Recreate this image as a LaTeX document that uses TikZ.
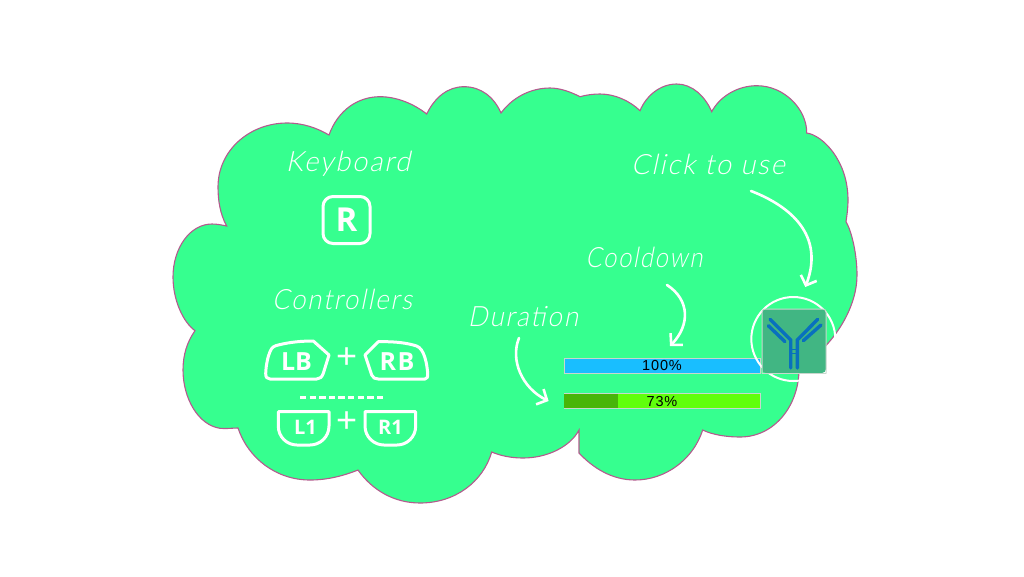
\documentclass[tikz,border=0pt]{standalone}
\usepackage{fontspec}
\setmainfont{Liberation Sans}
\newfontfamily\handfont[FakeSlant=0.22,LetterSpace=7]{Lato Light}
\newfontfamily\keyfont{Open Sans Bold}
\newfontfamily\barfont[LetterSpace=6]{Liberation Sans}
\usepackage{tikz}
\usetikzlibrary{arrows.meta}
\definecolor{cloudgreen}{RGB}{54,255,143}
\definecolor{cloudedge}{RGB}{180,90,142}
\definecolor{barblue}{RGB}{25,190,255}
\definecolor{barlime}{RGB}{96,255,12}
\definecolor{bardark}{RGB}{72,181,8}
\definecolor{icongreen}{RGB}{65,182,131}
\definecolor{iconblue}{RGB}{8,112,190}
\definecolor{barframe}{RGB}{200,215,205}

\begin{document}
\begin{tikzpicture}[x=1pt, y=-1pt]
		\tikzstyle{hand} = [font=\handfont\fontsize{28}{28}\selectfont, text=white, inner sep=0pt]
		\tikzstyle{keytext} = [font=\keyfont\fontsize{25}{25}\selectfont, text=white, inner sep=0pt]
		\tikzstyle{keyline} = [draw=white, line width=3pt, line join=round]
		\tikzstyle{plus} = [font=\fontsize{36}{36}\selectfont, text=white, inner sep=0pt]
		\tikzstyle{bar} = [rectangle, draw=barframe, line width=0.8pt, minimum width=196pt, minimum height=15pt, inner sep=0pt, font=\barfont\fontsize{14.5}{15}\selectfont, text=black]
		\tikzstyle{arrow} = [-{Straight Barb[length=8pt, width=17pt]}, draw=white, line width=2.6pt, line cap=round]
		\tikzstyle{glyph} = [draw=iconblue, line width=3.4pt, line cap=round]
		%-------------------------------------------------------
		% Page and cloud
		\path [use as bounding box] (0,0) rectangle (1024,576);
		\draw [fill=cloudgreen, draw=cloudedge, line width=1.1pt]
			(226.7,226) .. controls (220,214) and (218,200) .. (218,187)
			.. controls (218,150) and (250,123) .. (287,123)
			.. controls (303,123) and (317,128) .. (329,135)
			.. controls (338,110) and (358,96.7) .. (380,96.7)
			.. controls (397,96.7) and (414,104) .. (426.7,114)
			.. controls (435,97) and (448,86.7) .. (464,86.7)
			.. controls (481,86.7) and (494,97) .. (501,113)
			.. controls (512,98) and (530,88) .. (550,88)
			.. controls (560,88) and (571,92) .. (580,96.7)
			.. controls (586,95) and (593,94) .. (600,94)
			.. controls (615,94) and (630,101) .. (640,110.7)
			.. controls (646,96) and (660,84) .. (676.7,84)
			.. controls (692,84) and (705,96) .. (711.7,111.7)
			.. controls (720,96) and (738,85.7) .. (756.7,85.7)
			.. controls (785,85.7) and (807,110) .. (806.7,133)
			.. controls (822,135) and (848,160) .. (848,200)
			.. controls (848,208) and (847,215) .. (846,221.7)
			.. controls (852,232) and (857,255) .. (857,275)
			.. controls (857,305) and (838,342) .. (799,369)
			.. controls (799,405) and (775,437) .. (740,437)
			.. controls (727,437) and (713,435) .. (702.7,430)
			.. controls (693,460) and (665,480) .. (635,480)
			.. controls (612,480) and (593,468) .. (579,453)
			-- (579,430)
			.. controls (570,447) and (547,458) .. (523,458)
			.. controls (512,458) and (501,456) .. (491.7,452)
			.. controls (483,482) and (455,503) .. (420,503)
			.. controls (394,503) and (372,490) .. (358,470)
			.. controls (343,476) and (327,480) .. (310,480)
			.. controls (276,480) and (248,458) .. (238,428)
			.. controls (232,428) and (226,429) .. (220,428.3)
			.. controls (198,425) and (183,398) .. (183,370)
			.. controls (183,355) and (187,342) .. (195,330.7)
			.. controls (183,322) and (173,300) .. (173,277)
			.. controls (173,248) and (190,224) .. (212,224)
			.. controls (217,224) and (222,225) .. (226.7,226) -- cycle;
		%-------------------------------------------------------
		% Left side: keys
		\node (keyboard) [hand] at (348,164) {\scalebox{.97}[1]{Keyboard}};
		\node (rkey) [keyline, keytext, rounded corners=10pt, minimum size=47pt, font=\keyfont\fontsize{33}{33}\selectfont] at (346.5,220) {R};
		\node (controllers) [hand] at (342,299) {\scalebox{.92}[1]{Controllers}};

		\draw [keyline] (265.7,373.3) .. controls (266,365) and (268,356) .. (270,351.7) .. controls (272,347) and (274,346) .. (278.3,345) .. controls (290,342) and (302,341) .. (313.3,341) -- (329,355) -- (323.3,373.3) .. controls (322,377) and (320,379) .. (316.7,379) -- (270,379) .. controls (267,379) and (265.5,377) .. (265.7,373.3) -- cycle;
		\node (lb) [keytext] at (296.5,362) {LB};
		\node (plustop) [plus] at (346.7,358.5) {+};
		\draw [keyline] (427.7,373.3) .. controls (427,365) and (425.5,358) .. (423.3,353.3) .. controls (421,348) and (418,346) .. (413.3,345) .. controls (402,342) and (390,341.5) .. (378.3,341.7) -- (365,355) -- (371.7,375) .. controls (373,378) and (375,379) .. (378.3,379) -- (425,379) .. controls (427,379) and (428,377) .. (427.7,373.3) -- cycle;
		\node (rb) [keytext] at (397,362) {R\kern1.5pt B};

		\draw [draw=white, line width=3pt, dash pattern=on 6.4pt off 3.2pt] (300,397) -- (386,397);

		\draw [keyline] (278.3,411.7) -- (329,411.7) -- (329,426) .. controls (329,437) and (320,445) .. (310,445) -- (297,445) .. controls (287,445) and (278.3,437) .. (278.3,426) -- cycle;
		\node (lone) [keytext, font=\keyfont\fontsize{20}{20}\selectfont] at (305.5,427.5) {L1};
		\node (plusbot) [plus] at (346.7,422.5) {+};
		\draw [keyline] (365,411.7) -- (415.7,411.7) -- (415.7,426) .. controls (415.7,437) and (407,445) .. (397,445) -- (384,445) .. controls (374,445) and (365,437) .. (365,426) -- cycle;
		\node (rone) [keytext, font=\keyfont\fontsize{20}{20}\selectfont] at (390.5,427.5) {R1};
		%-------------------------------------------------------
		% Right side: bars and icon
		\node (clickuse) [hand] at (708,164) {\scalebox{.975}[1]{Click to use}};
		\node (cooldown) [hand] at (644,257) {\scalebox{.85}[1]{Cooldown}};
		\node (duration) [hand] at (523,317) {\scalebox{.93}[1]{Duration}};

		\node (cooldownbar) [bar, fill=barblue] at (662,366) {};
		\node (durationbar) [bar, fill=barlime] at (662,401) {};
		\fill [bardark] (564,393.8) rectangle (618,408.2);
		\node (cooldowntext) [inner sep=0pt, font=\barfont\fontsize{14.5}{15}\selectfont, text=black] at (cooldownbar) {100\%};
		\node (durationtext) [inner sep=0pt, font=\barfont\fontsize{14.5}{15}\selectfont, text=black] at (durationbar) {73\%};

		\node (usering) [circle, draw=white, line width=2pt, minimum size=84pt, inner sep=0pt] at (793.3,339) {};
		\fill [icongreen, rounded corners=4pt] (762,309) rectangle (826,373);
		\draw [draw=barframe, line width=1pt, rounded corners=3pt] (762,373.5) -- (762,309) -- (826,309) -- (826,373.5);
		\draw [draw=barframe, line width=1pt] (762,373.5) -- (826,373.5);
		\node (icon) [rectangle, minimum size=64pt, inner sep=0pt] at (794,341) {};

		\draw [glyph] (790.7,368) -- (790.7,340) -- (770,319.3);
		\draw [glyph] (797.3,368) -- (797.3,340) -- (817.7,319.3);
		\draw [glyph] (768.3,325.7) -- (785,341.7);
		\draw [glyph] (803.3,340.7) -- (821,325);
		\draw [draw=iconblue, line width=1.2pt] (790.7,349.3) -- (797.3,349.3) (790.7,353.3) -- (797.3,353.3);
		%-------------------------------------------------------
		% Arrows
		\coordinate (clickfrom) at (751,191);
		\coordinate (cooldownfrom) at (667,285);
		\coordinate (durationfrom) at (519,338);
		\draw [arrow] (clickfrom) .. controls (790,206) and (825,235) .. ([shift={(12,-9)}]usering.north);
		\draw [arrow] (cooldownfrom) .. controls (690,300) and (690,325) .. ([shift={(8,-12)}]cooldownbar.north);
		\draw [arrow] (durationfrom) .. controls (510,360) and (522,388) .. ([xshift=-15pt]durationbar.west);
\end{tikzpicture}
\end{document}
